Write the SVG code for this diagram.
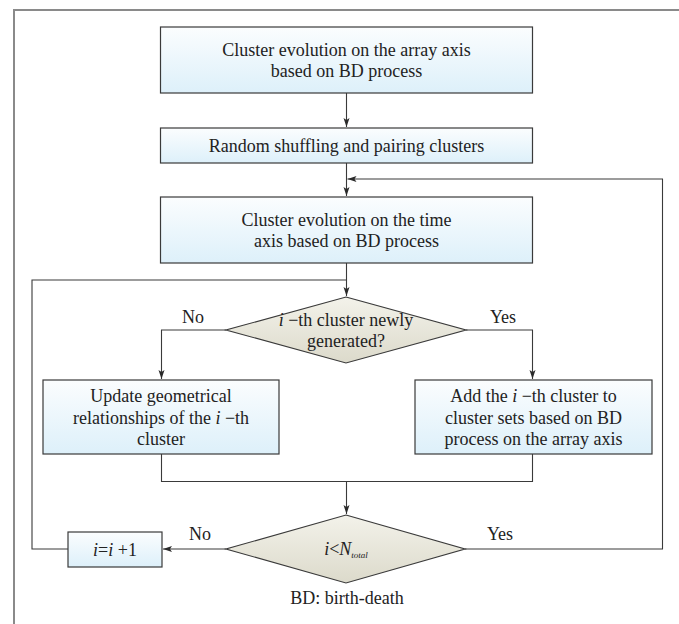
<svg xmlns="http://www.w3.org/2000/svg" width="679" height="624" viewBox="0 0 679 624">
<style>
  .box{fill:url(#gBlue);stroke:#3a3a3a;stroke-width:1.2}
  .dia{fill:url(#gBeige);stroke:#3a3a3a;stroke-width:1.2}
  .t{font-family:"Liberation Serif","Times New Roman",serif;font-size:18px;fill:#222;text-anchor:middle}
  .c{fill:none;stroke:#3a3a3a;stroke-width:1.1}
  .frame{fill:none;stroke:#8a8a8a;stroke-width:2}
  .it{font-style:italic}
</style>
<defs>
  <linearGradient id="gBlue" x1="0" y1="0" x2="0" y2="1">
    <stop offset="0" stop-color="#fbfdfe"/>
    <stop offset="1" stop-color="#ddf0fa"/>
  </linearGradient>
  <linearGradient id="gBeige" x1="0" y1="0" x2="0" y2="1">
    <stop offset="0" stop-color="#f3f2ea"/>
    <stop offset="1" stop-color="#dcdacb"/>
  </linearGradient>
  <marker id="arr" markerWidth="10" markerHeight="8" refX="9" refY="4" orient="auto" markerUnits="userSpaceOnUse">
    <path d="M0,1 L9,4 L0,7 L2,4 Z" fill="#2a2a2a"/>
  </marker>
</defs>

<path class="frame" d="M14,624 V10 H679"/>

<g id="connectors">
  <path class="c" d="M346.5,93 V127" marker-end="url(#arr)"/>
  <path class="c" d="M346.5,163 V196" marker-end="url(#arr)"/>
  <path class="c" d="M465,549 H662.5 V179 H347.5" marker-end="url(#arr)"/>
  <path class="c" d="M346.5,263 V296" marker-end="url(#arr)"/>
  <path class="c" d="M68,549 H32 V280 H346.5"/>
  <path class="c" d="M226,330 H161.5 V379" marker-end="url(#arr)"/>
  <path class="c" d="M466,330 H532.5 V379" marker-end="url(#arr)"/>
  <path class="c" d="M161.5,454 V481.5 H532.5 V454"/>
  <path class="c" d="M346.5,481.5 V514" marker-end="url(#arr)"/>
  <path class="c" d="M226,549 H163" marker-end="url(#arr)"/>
  <text class="t" x="193" y="323">No</text>
  <text class="t" x="503" y="323">Yes</text>
  <text class="t" x="200" y="540">No</text>
  <text class="t" x="500" y="540">Yes</text>
</g>

<g id="n1">
  <rect class="box" x="160.5" y="27" width="372" height="66"/>
  <text class="t" x="346.5" y="56">Cluster evolution on the array axis</text>
  <text class="t" x="346.5" y="77">based on BD process</text>
</g>

<g id="n2">
  <rect class="box" x="160.5" y="128" width="372" height="35"/>
  <text class="t" x="346.5" y="151.5">Random shuffling and pairing clusters</text>
</g>

<g id="n3">
  <rect class="box" x="160.5" y="197" width="372" height="66"/>
  <text class="t" x="346.5" y="226">Cluster evolution on the time</text>
  <text class="t" x="346.5" y="247">axis based on BD process</text>
</g>

<g id="d1">
  <polygon class="dia" points="346,297 466,330 346,363 226,330"/>
  <text class="t" x="346" y="326"><tspan class="it">i</tspan> −th cluster newly</text>
  <text class="t" x="346" y="347">generated?</text>
</g>

<g id="n4">
  <rect class="box" x="43" y="380" width="236" height="74"/>
  <text class="t" x="161" y="402">Update geometrical</text>
  <text class="t" x="161" y="423.5">relationships of the <tspan class="it">i</tspan> −th</text>
  <text class="t" x="161" y="445">cluster</text>
</g>

<g id="n5">
  <rect class="box" x="415" y="380" width="237" height="74"/>
  <text class="t" x="533.5" y="402">Add the <tspan class="it">i</tspan> −th cluster to</text>
  <text class="t" x="533.5" y="423.5">cluster sets based on BD</text>
  <text class="t" x="533.5" y="445">process on the array axis</text>
</g>

<g id="d2">
  <polygon class="dia" points="346,515 465,549 346,583 226,549"/>
  <text class="t" x="346" y="555"><tspan class="it">i</tspan>&lt;<tspan class="it">N</tspan><tspan class="it" font-size="9" dy="3">total</tspan></text>
</g>

<g id="n6">
  <rect class="box" x="68" y="532" width="94" height="35"/>
  <text class="t" x="115" y="555.5"><tspan class="it">i</tspan>=<tspan class="it">i</tspan> +1</text>
</g>

<text class="t" x="347" y="604">BD: birth-death</text>
</svg>
